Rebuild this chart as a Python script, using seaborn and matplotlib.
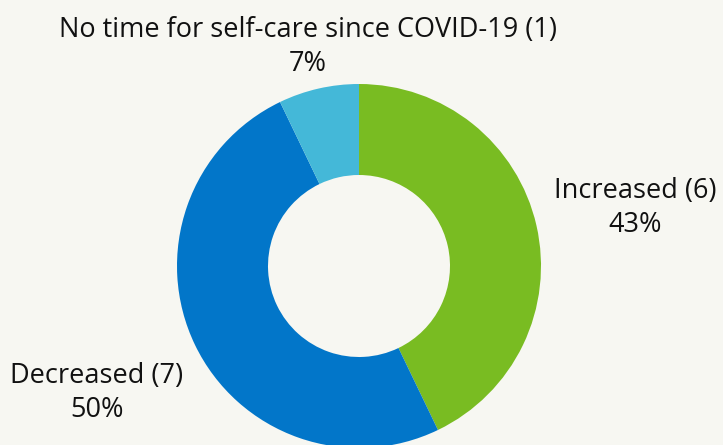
import matplotlib
matplotlib.use("Agg")
import matplotlib.pyplot as plt
import seaborn as sns

# Self-care time since COVID-19: answer counts
categories = ["Increased", "Decreased", "No time for self-care since COVID-19"]
counts = [6, 7, 1]
colors = ["#79BC22", "#0276C9", "#44B8D8"]

bg = "#F7F7F2"
sns.set_theme(style="white", rc={"figure.facecolor": bg, "axes.facecolor": bg})
plt.rcParams["font.family"] = ["Open Sans", "DejaVu Sans"]

W, H = 723, 445
fig = plt.figure(figsize=(W / 100, H / 100), dpi=100)
ax = fig.add_axes([0, 0, 1, 1])

cx, cy, r = 359, H - 266, 182
ax.pie(counts, colors=colors, startangle=90, counterclock=False,
       center=(cx, cy), radius=r,
       wedgeprops=dict(width=r - 91, linewidth=0))
ax.set_xlim(0, W)
ax.set_ylim(0, H)
ax.set_aspect("equal")
ax.axis("off")

total = sum(counts)
label_pos = [(635, H - 208), (97, H - 393), (308, H - 47)]
for name, n, (x, y) in zip(categories, counts, label_pos):
    pct = round(100 * n / total)
    ax.text(x, y, f"{name} ({n})\n{pct}%", ha="center", va="center",
            fontsize=19.5, color="#111111", linespacing=1.3)

fig.savefig("out.png", dpi=100, facecolor=bg)
